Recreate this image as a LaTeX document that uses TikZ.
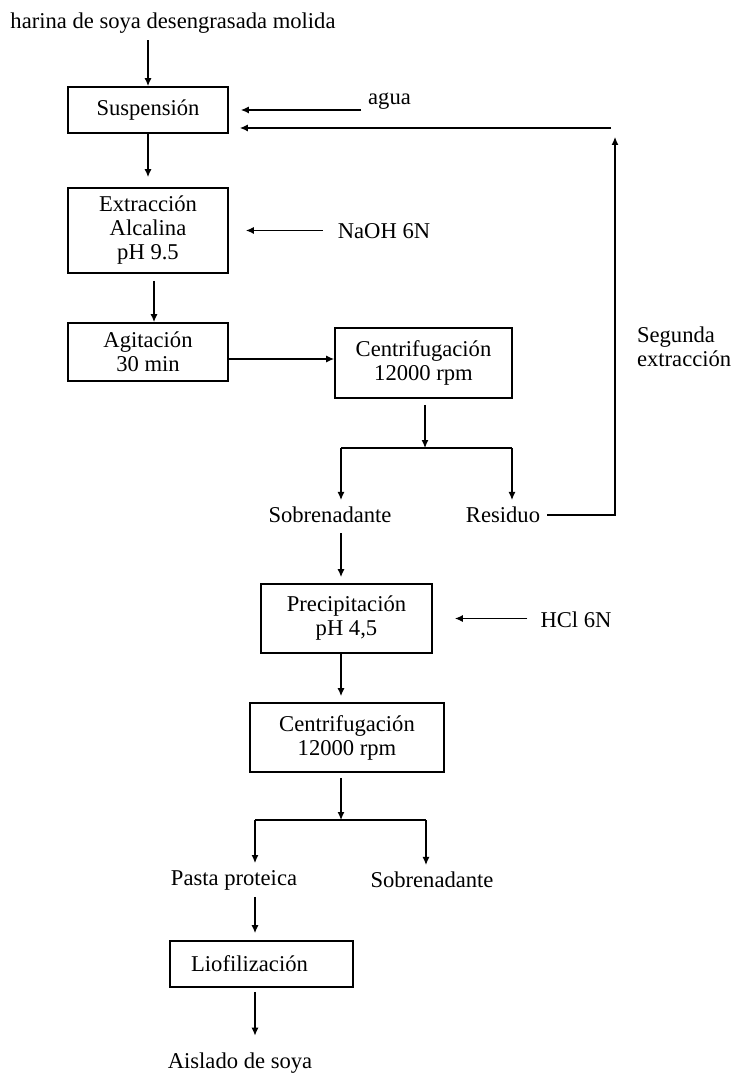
\documentclass[tikz,border=0pt]{standalone}
\usepackage{fontspec}
\setmainfont{Liberation Serif}
\usetikzlibrary{arrows.meta}
\tikzset{
  caja/.style={draw, line width=0.9pt, align=center, inner sep=0pt},
  flecha/.style={-{Latex[length=4pt,width=3.5pt]}, line width=0.6pt},
  rama/.style={line width=0.9pt}
}

\begin{document}
\begin{tikzpicture}[x=0.5pt, y=-0.5pt, font=\fontsize{11.3}{12}\selectfont]
         \useasboundingbox (0,0) rectangle (731,1074);
         \node (Har) at (173,23) {harina de soya desengrasada molida};
         \node [caja, minimum width=80pt, minimum height=23pt] (Sus) at (148,110) {Suspensión};
         \node [caja, minimum width=80pt, minimum height=42.5pt] (Ext) at (148,230.5) {Extracción\\Alcalina\\pH 9.5};
         \node [caja, minimum width=80pt, minimum height=29pt] (Agi) at (148,352) {Agitación\\30 min};
         \node [caja, minimum width=88.5pt, minimum height=35pt] (Cen1) at (423.5,363) {Centrifugación\\12000 rpm};
         \node [caja, minimum width=85.5pt, minimum height=34.5pt] (Pre) at (346.5,618.5) {Precipitación\\pH 4,5};
         \node [caja, minimum width=97pt, minimum height=34.5pt] (Cen2) at (347,737.5) {Centrifugación\\12000 rpm};
         \node [caja, minimum width=91.5pt, minimum height=23pt] (Lio) at (261.5,964) {Liofilización\hspace{12pt}};
         \node (Agu) at (389.5,101) {agua};
         \node (NaO) at (384,231) {NaOH 6N};
         \node [anchor=west, align=left] (Seg) at (630,347) {Segunda\\extracción};
         \node (Sob1) at (330,515) {Sobrenadante};
         \node (Res) at (503,515) {Residuo};
         \node (HCl) at (576,620) {HCl 6N};
         \node (Pas) at (234,880) {Pasta proteica};
         \node (Sob2) at (432,880) {Sobrenadante};
         \node (Ais) at (240,1063) {Aislado de soya};
         \coordinate (B1) at (425,448);
         \coordinate (I1) at (341,448);
         \coordinate (D1) at (512,448);
         \coordinate (B2) at (341,820);
         \coordinate (I2) at (255,820);
         \coordinate (D2) at (426,820);
         \coordinate (Sub) at (615,137);
         \coordinate (Ret) at (611,128);
         \draw [flecha] (Har.south -| Sus.north) -- (Sus.north);
         \draw [flecha, shorten >=5pt] (Sus.south) -- (Ext.north);
         \draw [flecha, shorten <=3.5pt] ([xshift=3pt]Ext.south) -- ([xshift=3pt]Agi.north);
         \draw [flecha] ([yshift=-3.5pt]Agi.east) -- ([yshift=-3.5pt]Agi.east -| Cen1.west);
         \draw [flecha, shorten >=6pt] (Agu.west |- Sus) -- (Sus.east);
         \draw [flecha, shorten <=4pt, shorten >=8.5pt] (NaO.west |- Ext) -- (Ext.east);
         \draw [flecha, shorten <=3pt] (Cen1.south -| B1) -- (B1);
         \draw [rama] (I1) -- (D1);
         \draw [flecha] (I1) -- (I1 |- Sob1.north);
         \draw [flecha] (D1) -- (D1 |- Res.north);
         \draw [flecha] (Res.east) -| (Sub);
         \draw [flecha, shorten >=5.5pt] (Ret) -- (Ret -| Sus.east);
         \draw [flecha, shorten <=1.5pt, shorten >=3pt] (Sob1.south -| I1) -- (I1 |- Pre.north);
         \draw [flecha, shorten <=3pt, shorten >=11pt] (HCl.west |- Pre) -- (Pre.east);
         \draw [flecha, shorten >=3pt] (Pre.south -| B2) -- (B2 |- Cen2.north);
         \draw [flecha, shorten <=2.5pt] (Cen2.south -| B2) -- (B2);
         \draw [rama] (I2) -- (D2);
         \draw [flecha] (I2) -- (I2 |- Pas.north);
         \draw [flecha] (D2) -- (D2 |- Sob2.north);
         \draw [flecha, shorten >=3.5pt] (Pas.south -| I2) -- (I2 |- Lio.north);
         \draw [flecha, shorten <=2pt, shorten >=5pt] (Lio.south -| I2) -- (I2 |- Ais.north);
\end{tikzpicture}
\end{document}
